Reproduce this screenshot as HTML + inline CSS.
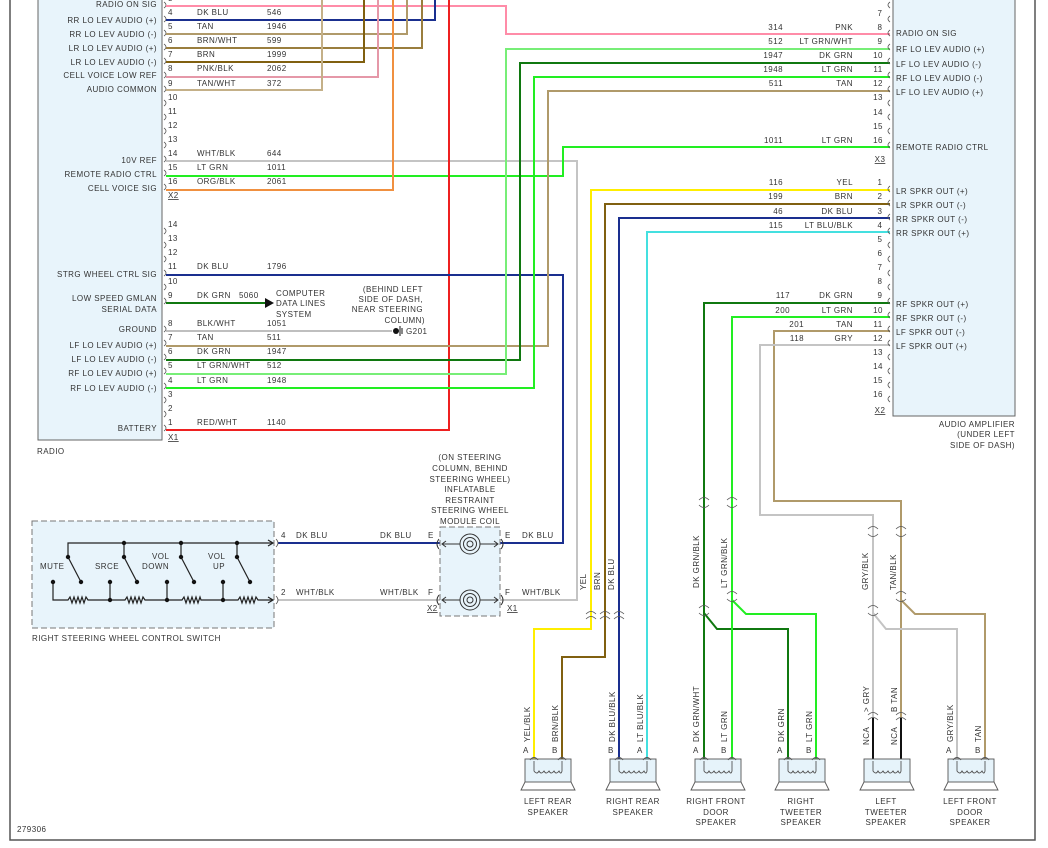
<!DOCTYPE html>
<html><head><meta charset="utf-8"><style>
html,body{margin:0;padding:0;background:#fff}
svg{display:block}
text{font-family:"Liberation Sans",sans-serif;font-size:8px;fill:#333;letter-spacing:.45px}
.e{text-anchor:end}.m{text-anchor:middle}
.w{fill:none;stroke-width:2}
.k{fill:none;stroke:#555;stroke-width:.8}
</style></head><body>
<svg width="1048" height="848" viewBox="0 0 1048 848" xmlns="http://www.w3.org/2000/svg">
<!-- frame -->
<path d="M10,0V840H1035V0" fill="none" stroke="#555" stroke-width="1.5"/>
<!-- radio box -->
<rect x="38" y="-5" width="124" height="445" fill="#e8f4fb" stroke="#666" stroke-width="1"/>
<!-- amp box -->
<rect x="893" y="-5" width="122" height="421" fill="#e8f4fb" stroke="#666" stroke-width="1"/>

<!-- radio left labels -->
<g class="e">
<text x="157" y="7" class="e">RADIO ON SIG</text>
<text x="157" y="23" class="e">RR LO LEV AUDIO (+)</text>
<text x="157" y="37" class="e">RR LO LEV AUDIO (-)</text>
<text x="157" y="51" class="e">LR LO LEV AUDIO (+)</text>
<text x="157" y="65" class="e">LR LO LEV AUDIO (-)</text>
<text x="157" y="78" class="e">CELL VOICE LOW REF</text>
<text x="157" y="92" class="e">AUDIO COMMON</text>
<text x="157" y="163" class="e">10V REF</text>
<text x="157" y="177" class="e">REMOTE RADIO CTRL</text>
<text x="157" y="191" class="e">CELL VOICE SIG</text>
<text x="157" y="277" class="e">STRG WHEEL CTRL SIG</text>
<text x="157" y="301" class="e">LOW SPEED GMLAN</text>
<text x="157" y="312" class="e">SERIAL DATA</text>
<text x="157" y="332" class="e">GROUND</text>
<text x="157" y="348" class="e">LF LO LEV AUDIO (+)</text>
<text x="157" y="362" class="e">LF LO LEV AUDIO (-)</text>
<text x="157" y="376" class="e">RF LO LEV AUDIO (+)</text>
<text x="157" y="391" class="e">RF LO LEV AUDIO (-)</text>
<text x="157" y="431" class="e">BATTERY</text>
</g>
<text x="37" y="454">RADIO</text>
<text x="17" y="832">279306</text>

<!-- radio pin numbers -->
<g>
<text x="168" y="1">3</text>
<text x="168" y="15">4</text><text x="168" y="29">5</text><text x="168" y="43">6</text><text x="168" y="57">7</text>
<text x="168" y="71">8</text><text x="168" y="86">9</text><text x="168" y="100">10</text><text x="168" y="114">11</text>
<text x="168" y="128">12</text><text x="168" y="142">13</text><text x="168" y="156">14</text><text x="168" y="170">15</text>
<text x="168" y="184">16</text><text x="168" y="198" text-decoration="underline">X2</text>
<text x="168" y="227">14</text><text x="168" y="241">13</text><text x="168" y="255">12</text><text x="168" y="269">11</text>
<text x="168" y="284">10</text><text x="168" y="298">9</text><text x="168" y="326">8</text><text x="168" y="340">7</text>
<text x="168" y="354">6</text><text x="168" y="368">5</text><text x="168" y="383">4</text><text x="168" y="397">3</text>
<text x="168" y="411">2</text><text x="168" y="425">1</text><text x="168" y="440" text-decoration="underline">X1</text>
</g>
<!-- radio connector brackets -->
<path class="k" d="M164,2q4,3 0,6M164,16q4,3 0,6M164,30q4,3 0,6M164,44q4,3 0,6M164,58q4,3 0,6M164,72q4,3 0,6M164,86q4,3 0,6M164,100q4,3 0,6M164,114q4,3 0,6M164,128q4,3 0,6M164,142q4,3 0,6M164,156q4,3 0,6M164,170q4,3 0,6M164,184q4,3 0,6
M164,228q4,3 0,6M164,242q4,3 0,6M164,256q4,3 0,6M164,270q4,3 0,6M164,284q4,3 0,6M164,298q4,3 0,6M164,326q4,3 0,6M164,340q4,3 0,6M164,354q4,3 0,6M164,368q4,3 0,6M164,383q4,3 0,6M164,397q4,3 0,6M164,411q4,3 0,6M164,425q4,3 0,6"/>

<!-- radio wire labels -->
<g>
<text x="197" y="15">DK BLU</text><text x="267" y="15">546</text>
<text x="197" y="29">TAN</text><text x="267" y="29">1946</text>
<text x="197" y="43">BRN/WHT</text><text x="267" y="43">599</text>
<text x="197" y="57">BRN</text><text x="267" y="57">1999</text>
<text x="197" y="71">PNK/BLK</text><text x="267" y="71">2062</text>
<text x="197" y="86">TAN/WHT</text><text x="267" y="86">372</text>
<text x="197" y="156">WHT/BLK</text><text x="267" y="156">644</text>
<text x="197" y="170">LT GRN</text><text x="267" y="170">1011</text>
<text x="197" y="184">ORG/BLK</text><text x="267" y="184">2061</text>
<text x="197" y="269">DK BLU</text><text x="267" y="269">1796</text>
<text x="197" y="298">DK GRN</text><text x="239" y="298">5060</text>
<text x="197" y="326">BLK/WHT</text><text x="267" y="326">1051</text>
<text x="197" y="340">TAN</text><text x="267" y="340">511</text>
<text x="197" y="354">DK GRN</text><text x="267" y="354">1947</text>
<text x="197" y="368">LT GRN/WHT</text><text x="267" y="368">512</text>
<text x="197" y="383">LT GRN</text><text x="267" y="383">1948</text>
<text x="197" y="425">RED/WHT</text><text x="267" y="425">1140</text>
<text x="276" y="296">COMPUTER</text><text x="276" y="306">DATA LINES</text><text x="276" y="317">SYSTEM</text>
<text x="423" y="292" class="e">(BEHIND LEFT</text><text x="423" y="302" class="e">SIDE OF DASH,</text>
<text x="423" y="312" class="e">NEAR STEERING</text><text x="425" y="323" class="e">COLUMN)</text>
<text x="406" y="334">G201</text>
</g>

<!-- radio wires -->
<path class="w" stroke="#ff8ca8" d="M166,6H506V34H890"/>
<path class="w" stroke="#1a2f8f" d="M166,20H435V-5"/>
<path class="w" stroke="#b09a6a" d="M166,34H407V-5"/>
<path class="w" stroke="#9a7e3e" d="M166,48H422V-5"/>
<path class="w" stroke="#806010" d="M166,62H364V-5"/>
<path class="w" stroke="#e598a8" d="M166,77H378V-5"/>
<path class="w" stroke="#c4b088" d="M166,90H322V-5"/>
<path class="w" stroke="#c4c4c4" d="M166,161H577V600H500"/>
<path class="w" stroke="#22ee22" d="M166,176H563V147H890"/>
<path class="w" stroke="#f09040" d="M166,190H393V-5"/>
<path class="w" stroke="#ee2020" d="M166,430H449V-5"/>
<path class="w" stroke="#1a2f8f" d="M166,275H563V543H500"/>
<path class="w" stroke="#107810" d="M166,303H266"/>
<path d="M265,298L274,303L265,308Z" fill="#111"/>
<path fill="none" stroke="#999" stroke-width="1.2" d="M166,331H392"/>
<circle cx="396" cy="331" r="3" fill="#111"/><path d="M400,326V336M402,328V334" stroke="#111" stroke-width="1"/>
<path class="w" stroke="#b09a6a" d="M166,346H548V91H890"/>
<path class="w" stroke="#107810" d="M166,360H520V63H890"/>
<path class="w" stroke="#77ee77" d="M166,374H506V49H890"/>
<path class="w" stroke="#22ee22" d="M166,388H534V77H890"/>

<!-- amp wires to speakers -->
<path class="w" stroke="#ffee00" d="M890,190H591V629H534V760"/>
<path class="w" stroke="#806010" d="M890,204H605V657H562V760"/>
<path class="w" stroke="#1a2f8f" d="M890,218H619V760"/>
<path class="w" stroke="#44e0e0" d="M890,232H647V760"/>
<path class="w" stroke="#107810" d="M890,303H704V760M704,613L717,629H788V760"/>
<path class="w" stroke="#22ee22" d="M890,317H732V760M732,600L746,614H816V760"/>
<path class="w" stroke="#b09a6a" d="M890,331H774V501H901V760M901,600L915,614H985V760"/>
<path class="w" stroke="#c4c4c4" d="M890,345H760V515H873V760M873,613L886,629H957V760"/>
<path fill="none" stroke="#111" stroke-width="2" d="M873,718V768M901,718V768"/>

<!-- inline connectors -->
<path class="k" stroke-width="1" d="M586,614q5,-5 10,0M586,619q5,-5 10,0M600,614q5,-5 10,0M600,619q5,-5 10,0M614,614q5,-5 10,0M614,619q5,-5 10,0
M699,500q5,-5 10,0M699,505q5,5 10,0M727,500q5,-5 10,0M727,505q5,5 10,0
M699,608q5,-5 10,0M699,613q5,5 10,0M727,594q5,-5 10,0M727,599q5,5 10,0
M868,529q5,-5 10,0M868,534q5,5 10,0M896,529q5,-5 10,0M896,534q5,5 10,0
M868,608q5,-5 10,0M868,613q5,5 10,0M896,594q5,-5 10,0M896,599q5,5 10,0
M868,715q5,-5 10,0M868,720q5,-5 10,0M896,715q5,-5 10,0M896,720q5,-5 10,0"/>

<!-- amp labels -->
<g>
<text x="1015" y="427" class="e">AUDIO AMPLIFIER</text>
<text x="1015" y="437" class="e">(UNDER LEFT</text>
<text x="1015" y="448" class="e">SIDE OF DASH)</text>
<text x="896" y="36">RADIO ON SIG</text>
<text x="896" y="52">RF LO LEV AUDIO (+)</text>
<text x="896" y="67">LF LO LEV AUDIO (-)</text>
<text x="896" y="81">RF LO LEV AUDIO (-)</text>
<text x="896" y="95">LF LO LEV AUDIO (+)</text>
<text x="896" y="150">REMOTE RADIO CTRL</text>
<text x="896" y="194">LR SPKR OUT (+)</text>
<text x="896" y="208">LR SPKR OUT (-)</text>
<text x="896" y="222">RR SPKR OUT (-)</text>
<text x="896" y="236">RR SPKR OUT (+)</text>
<text x="896" y="307">RF SPKR OUT (+)</text>
<text x="896" y="321">RF SPKR OUT (-)</text>
<text x="896" y="335">LF SPKR OUT (-)</text>
<text x="896" y="349">LF SPKR OUT (+)</text>
</g>
<g class="m">
<text x="880" y="16" class="m">7</text><text x="880" y="30" class="m">8</text><text x="880" y="44" class="m">9</text>
<text x="878" y="58" class="m">10</text><text x="878" y="72" class="m">11</text><text x="878" y="86" class="m">12</text>
<text x="878" y="100" class="m">13</text><text x="878" y="115" class="m">14</text><text x="878" y="129" class="m">15</text>
<text x="878" y="143" class="m">16</text><text x="880" y="162" class="m" text-decoration="underline">X3</text>
<text x="880" y="185" class="m">1</text><text x="880" y="199" class="m">2</text><text x="880" y="214" class="m">3</text>
<text x="880" y="228" class="m">4</text><text x="880" y="242" class="m">5</text><text x="880" y="256" class="m">6</text>
<text x="880" y="270" class="m">7</text><text x="880" y="284" class="m">8</text><text x="880" y="298" class="m">9</text>
<text x="878" y="313" class="m">10</text><text x="878" y="327" class="m">11</text><text x="878" y="341" class="m">12</text>
<text x="878" y="355" class="m">13</text><text x="878" y="369" class="m">14</text><text x="878" y="383" class="m">15</text>
<text x="878" y="397" class="m">16</text><text x="880" y="413" class="m" text-decoration="underline">X2</text>
</g>
<path class="k" d="M890,2q-4,3 0,6M890,16q-4,3 0,6M890,30q-4,3 0,6M890,44q-4,3 0,6M890,58q-4,3 0,6M890,72q-4,3 0,6M890,86q-4,3 0,6M890,100q-4,3 0,6M890,114q-4,3 0,6M890,128q-4,3 0,6M890,142q-4,3 0,6
M890,186q-4,3 0,6M890,200q-4,3 0,6M890,214q-4,3 0,6M890,228q-4,3 0,6M890,242q-4,3 0,6M890,256q-4,3 0,6M890,270q-4,3 0,6M890,284q-4,3 0,6M890,298q-4,3 0,6M890,312q-4,3 0,6M890,326q-4,3 0,6M890,340q-4,3 0,6M890,354q-4,3 0,6M890,368q-4,3 0,6M890,382q-4,3 0,6M890,396q-4,3 0,6"/>
<g class="e">
<text x="783" y="30" class="e">314</text><text x="853" y="30" class="e">PNK</text>
<text x="783" y="44" class="e">512</text><text x="853" y="44" class="e">LT GRN/WHT</text>
<text x="783" y="58" class="e">1947</text><text x="853" y="58" class="e">DK GRN</text>
<text x="783" y="72" class="e">1948</text><text x="853" y="72" class="e">LT GRN</text>
<text x="783" y="86" class="e">511</text><text x="853" y="86" class="e">TAN</text>
<text x="783" y="143" class="e">1011</text><text x="853" y="143" class="e">LT GRN</text>
<text x="783" y="185" class="e">116</text><text x="853" y="185" class="e">YEL</text>
<text x="783" y="199" class="e">199</text><text x="853" y="199" class="e">BRN</text>
<text x="783" y="214" class="e">46</text><text x="853" y="214" class="e">DK BLU</text>
<text x="783" y="228" class="e">115</text><text x="853" y="228" class="e">LT BLU/BLK</text>
<text x="790" y="298" class="e">117</text><text x="853" y="298" class="e">DK GRN</text>
<text x="790" y="313" class="e">200</text><text x="853" y="313" class="e">LT GRN</text>
<text x="804" y="327" class="e">201</text><text x="853" y="327" class="e">TAN</text>
<text x="804" y="341" class="e">118</text><text x="853" y="341" class="e">GRY</text>
</g>

<!-- steering switch -->
<rect x="32" y="521" width="242" height="107" fill="#e8f4fb" stroke="#777" stroke-dasharray="6,3"/>
<g stroke="#222" stroke-width="1.2" fill="none">
<path d="M68,557V543H272M124,543V557M181,543V557M237,543V557"/>
<path d="M68,557L81,582M124,557L137,582M181,557L194,582M237,557L250,582"/>
<path d="M53,582V600H68l2,-3l2,6l2,-6l2,6l2,-6l2,6l2,-6l2,6l2,-6l2,3H125l2,-3l2,6l2,-6l2,6l2,-6l2,6l2,-6l2,6l2,-6l2,3H182l2,-3l2,6l2,-6l2,6l2,-6l2,6l2,-6l2,6l2,-6l1,3H238l2,-3l2,6l2,-6l2,6l2,-6l2,6l2,-6l2,6l2,-6l2,3H272"/>
<path d="M110,582V600M167,582V600M223,582V600"/>
<path d="M268,540l5,3l-5,3M268,597l5,3l-5,3"/>
</g>
<g fill="#111">
<circle cx="124" cy="543" r="2.2"/><circle cx="181" cy="543" r="2.2"/><circle cx="237" cy="543" r="2.2"/>
<circle cx="68" cy="557" r="2.2"/><circle cx="124" cy="557" r="2.2"/><circle cx="181" cy="557" r="2.2"/><circle cx="237" cy="557" r="2.2"/>
<circle cx="81" cy="582" r="2.2"/><circle cx="137" cy="582" r="2.2"/><circle cx="194" cy="582" r="2.2"/><circle cx="250" cy="582" r="2.2"/>
<circle cx="53" cy="582" r="2.2"/><circle cx="110" cy="582" r="2.2"/><circle cx="167" cy="582" r="2.2"/><circle cx="223" cy="582" r="2.2"/>
<circle cx="110" cy="600" r="2.2"/><circle cx="167" cy="600" r="2.2"/><circle cx="223" cy="600" r="2.2"/>
</g>
<text x="40" y="569">MUTE</text><text x="95" y="569">SRCE</text>
<text x="152" y="559">VOL</text><text x="142" y="569">DOWN</text>
<text x="208" y="559">VOL</text><text x="213" y="569">UP</text>
<text x="32" y="641">RIGHT STEERING WHEEL CONTROL SWITCH</text>
<path class="w" stroke="#1a2f8f" d="M278,543H440"/>
<path class="w" stroke="#c4c4c4" d="M278,600H440"/>
<path class="k" d="M276,539q4,4 0,8M276,596q4,4 0,8"/>
<text x="281" y="538">4</text><text x="296" y="538">DK BLU</text>
<text x="281" y="595">2</text><text x="296" y="595">WHT/BLK</text>
<text x="380" y="538">DK BLU</text><text x="428" y="538">E</text>
<text x="380" y="595">WHT/BLK</text><text x="428" y="595">F</text>
<text x="427" y="611" text-decoration="underline">X2</text>
<text x="505" y="538">E</text><text x="522" y="538">DK BLU</text>
<text x="505" y="595">F</text><text x="522" y="595">WHT/BLK</text>
<text x="507" y="611" text-decoration="underline">X1</text>

<!-- coil -->
<rect x="440" y="527" width="60" height="89" fill="#e8f4fb" stroke="#777" stroke-dasharray="6,3"/>
<g fill="none" stroke="#333" stroke-width="1">
<path d="M442,544H460M480,544H498M442,600H460M480,600H498M446,541l-4,3l4,3M494,541l4,3l-4,3M446,597l-4,3l4,3M494,597l4,3l-4,3"/>
<circle cx="470" cy="544" r="10"/><circle cx="470" cy="544" r="6.5"/><circle cx="470" cy="544" r="3"/>
<circle cx="470" cy="600" r="10"/><circle cx="470" cy="600" r="6.5"/><circle cx="470" cy="600" r="3"/>
<path d="M439,539q-4,5 0,10M439,595q-4,5 0,10M501,539q4,5 0,10M501,595q4,5 0,10"/>
</g>
<g class="m">
<text x="470" y="460" class="m">(ON STEERING</text><text x="470" y="471" class="m">COLUMN, BEHIND</text>
<text x="470" y="482" class="m">STEERING WHEEL)</text><text x="470" y="492" class="m">INFLATABLE</text>
<text x="470" y="503" class="m">RESTRAINT</text><text x="470" y="513" class="m">STEERING WHEEL</text>
<text x="470" y="524" class="m">MODULE COIL</text>
</g>

<!-- top rotated labels -->
<g>
<text transform="translate(586,590) rotate(-90)">YEL</text>
<text transform="translate(600,590) rotate(-90)">BRN</text>
<text transform="translate(614,590) rotate(-90)">DK BLU</text>
<text transform="translate(699,588) rotate(-90)">DK GRN/BLK</text>
<text transform="translate(727,588) rotate(-90)">LT GRN/BLK</text>
<text transform="translate(868,590) rotate(-90)">GRY/BLK</text>
<text transform="translate(896,590) rotate(-90)">TAN/BLK</text>
<!-- bottom rotated -->
<text transform="translate(530,742) rotate(-90)">YEL/BLK</text>
<text transform="translate(558,742) rotate(-90)">BRN/BLK</text>
<text transform="translate(615,742) rotate(-90)">DK BLU/BLK</text>
<text transform="translate(643,742) rotate(-90)">LT BLU/BLK</text>
<text transform="translate(699,742) rotate(-90)">DK GRN/WHT</text>
<text transform="translate(727,742) rotate(-90)">LT GRN</text>
<text transform="translate(784,742) rotate(-90)">DK GRN</text>
<text transform="translate(812,742) rotate(-90)">LT GRN</text>
<text transform="translate(869,712) rotate(-90)">&gt; GRY</text>
<text transform="translate(897,712) rotate(-90)">B TAN</text>
<text transform="translate(869,745) rotate(-90)">NCA</text>
<text transform="translate(897,745) rotate(-90)">NCA</text>
<text transform="translate(953,742) rotate(-90)">GRY/BLK</text>
<text transform="translate(981,742) rotate(-90)">TAN</text>
</g>
<g>
<text x="523" y="753">A</text><text x="552" y="753">B</text>
<text x="608" y="753">B</text><text x="637" y="753">A</text>
<text x="693" y="753">A</text><text x="721" y="753">B</text>
<text x="777" y="753">A</text><text x="806" y="753">B</text>
<text x="946" y="753">A</text><text x="975" y="753">B</text>
</g>

<!-- speakers -->
<g fill="#e6f3fa" stroke="#555" stroke-width="0.9">
<rect x="525" y="759" width="46" height="23"/><rect x="610" y="759" width="46" height="23"/>
<rect x="695" y="759" width="46" height="23"/><rect x="779" y="759" width="46" height="23"/>
<rect x="864" y="759" width="46" height="23"/><rect x="948" y="759" width="46" height="23"/>
</g>
<g fill="none" stroke="#555" stroke-width="0.9">
<path d="M525,782l-4,8h54l-4,-8M610,782l-4,8h54l-4,-8M695,782l-4,8h54l-4,-8M779,782l-4,8h54l-4,-8M864,782l-4,8h54l-4,-8M948,782l-4,8h54l-4,-8"/>
<path d="M534,761v10q3,4 5,0q2,4 5,0q2,4 5,0q2,4 5,0q2,4 5,0q2,4 3,0v-10M619,761v10q3,4 5,0q2,4 5,0q2,4 5,0q2,4 5,0q2,4 5,0q2,4 3,0v-10M704,761v10q3,4 5,0q2,4 5,0q2,4 5,0q2,4 5,0q2,4 5,0q2,4 3,0v-10M788,761v10q3,4 5,0q2,4 5,0q2,4 5,0q2,4 5,0q2,4 5,0q2,4 3,0v-10M873,761v10q3,4 5,0q2,4 5,0q2,4 5,0q2,4 5,0q2,4 5,0q2,4 3,0v-10M957,761v10q3,4 5,0q2,4 5,0q2,4 5,0q2,4 5,0q2,4 5,0q2,4 3,0v-10"/>
<path d="M530,760q4,-5 8,0M558,760q4,-5 8,0M615,760q4,-5 8,0M643,760q4,-5 8,0M700,760q4,-5 8,0M728,760q4,-5 8,0M784,760q4,-5 8,0M812,760q4,-5 8,0M953,760q4,-5 8,0M981,760q4,-5 8,0"/>
</g>
<g class="m">
<text x="548" y="804" class="m">LEFT REAR</text><text x="548" y="815" class="m">SPEAKER</text>
<text x="633" y="804" class="m">RIGHT REAR</text><text x="633" y="815" class="m">SPEAKER</text>
<text x="716" y="804" class="m">RIGHT FRONT</text><text x="716" y="815" class="m">DOOR</text><text x="716" y="825" class="m">SPEAKER</text>
<text x="801" y="804" class="m">RIGHT</text><text x="801" y="815" class="m">TWEETER</text><text x="801" y="825" class="m">SPEAKER</text>
<text x="886" y="804" class="m">LEFT</text><text x="886" y="815" class="m">TWEETER</text><text x="886" y="825" class="m">SPEAKER</text>
<text x="970" y="804" class="m">LEFT FRONT</text><text x="970" y="815" class="m">DOOR</text><text x="970" y="825" class="m">SPEAKER</text>
</g>
</svg>
</body></html>
